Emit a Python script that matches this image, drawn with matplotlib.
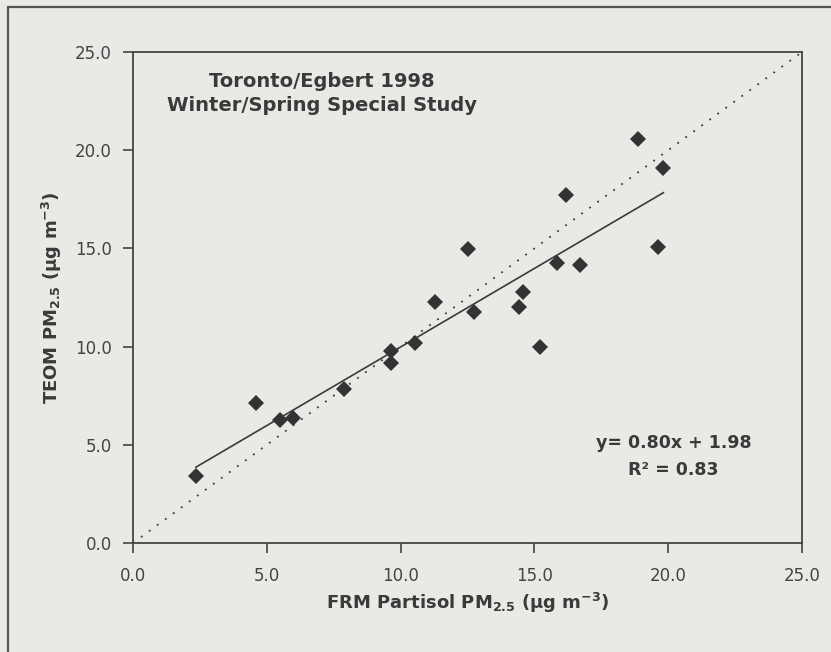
import matplotlib
matplotlib.use("Agg")
import matplotlib.pyplot as plt
from matplotlib.patches import Rectangle
import numpy as np

plt.rcParams["font.family"] = ["DejaVu Sans"]
plt.rcParams["mathtext.fontset"] = "dejavusans"

# ---- data ----
frm_x = [2.35, 4.59, 5.48, 5.97, 7.88, 9.64, 9.64, 10.54, 11.27, 12.53,
         12.74, 14.41, 14.59, 15.20, 15.85, 16.18, 16.69, 18.88, 19.82, 19.63]
teom_y = [3.41, 7.11, 6.26, 6.38, 7.82, 9.79, 9.18, 10.17, 12.27, 14.99,
          11.78, 12.03, 12.78, 9.96, 14.24, 17.72, 14.17, 20.55, 19.08, 15.09]
slope = 0.80
intercept = 1.98
r_squared = 0.83
one_to_one = [0.0, 25.0]
tick_values = [0.0, 5.0, 10.0, 15.0, 20.0, 25.0]
tick_labels = ["0.0", "5.0", "10.0", "15.0", "20.0", "25.0"]

BG = "#e9e9e6"
INK = "#3a3a3a"

fig = plt.figure(figsize=(8.31, 6.52), dpi=100, facecolor=BG)
ax = fig.add_axes([133/831, 1 - 543/652, (802 - 133)/831, (543 - 52)/652])
ax.set_facecolor(BG)

# outer chart frame (clipped by figure edge)
fig.patches.append(Rectangle((8/831, -0.1), 1.2, 1 - 7/652 + 0.1,
                             transform=fig.transFigure, fill=False,
                             edgecolor="#555555", linewidth=1.6))

# 1:1 dotted line
ax.plot(one_to_one, one_to_one, linestyle=(0, (1, 4.5)), color=INK,
        linewidth=1.3, zorder=2)

# regression line over the data range
xr = np.array([min(frm_x), max(frm_x)])
ax.plot(xr, slope * xr + intercept, color=INK, linewidth=1.2, zorder=3)

# data points
ax.plot(frm_x, teom_y, linestyle="none", marker="D", markersize=8.2,
        color="#333333", markeredgewidth=0, zorder=4)

ax.set_xlim(0, 25)
ax.set_ylim(0, 25)
ax.set_xticks(tick_values)
ax.set_xticklabels(tick_labels)
ax.set_yticks(tick_values)
ax.set_yticklabels(tick_labels)

for s in ax.spines.values():
    s.set_color("#444444")
    s.set_linewidth(1.3)

ax.tick_params(axis="both", direction="out", length=7.2, width=1.2,
               color="#444444", labelcolor="#444444", labelsize=12)
ax.tick_params(axis="y", pad=8)
ax.tick_params(axis="x", pad=10)

ax.set_xlabel(r"FRM Partisol PM$_{\mathbf{2.5}}$ (µg m$^{\mathbf{-3}}$)",
              fontsize=13, fontweight="bold", color=INK, labelpad=4)
ax.set_ylabel(r"TEOM PM$_{\mathbf{2.5}}$ (µg m$^{\mathbf{-3}}$)",
              fontsize=13, fontweight="bold", color=INK, labelpad=8)

ax.text(7.06, 24.0, "Toronto/Egbert 1998\nWinter/Spring Special Study",
        ha="center", va="top", fontsize=14, fontweight="bold", color=INK,
        linespacing=1.35)

ax.text(20.2, 4.4, f"y= {slope:.2f}x + {intercept:.2f}\nR² = {r_squared:.2f}",
        ha="center", va="center", fontsize=12.5, fontweight="bold", color=INK,
        linespacing=1.6)

fig.savefig("out.png", dpi=100, facecolor=BG)
